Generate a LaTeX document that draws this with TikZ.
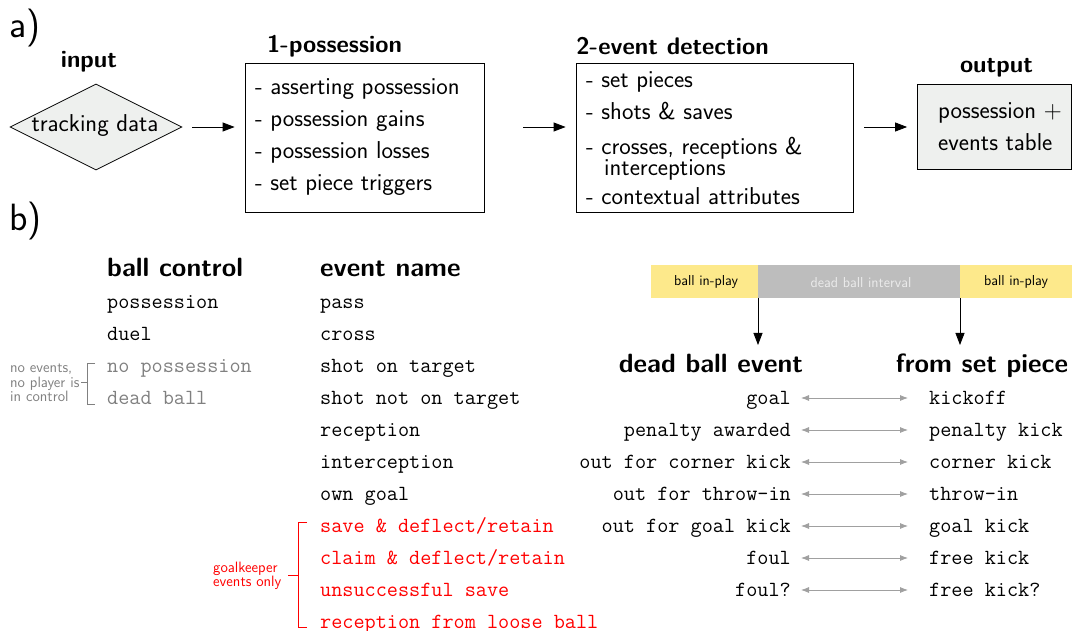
\documentclass[tikz,border=0pt]{standalone}
\usepackage{fontspec}
\usetikzlibrary{shapes.geometric,arrows.meta}
\definecolor{boxfill}{HTML}{EEF0EE}
\definecolor{inplay}{HTML}{FDE98B}
\definecolor{deadgray}{HTML}{BDBDBD}
\definecolor{dimtext}{HTML}{808080}
\definecolor{linkgray}{HTML}{A0A0A0}
\definecolor{gkred}{HTML}{FF0000}
\tikzset{
  body/.style={font=\sffamily\fontsize{24.4}{28}\selectfont, inner sep=0pt},
  headA/.style={font=\sffamily\bfseries\fontsize{24}{28}\selectfont, inner sep=0pt},
  headB/.style={font=\sffamily\bfseries\fontsize{26.4}{30}\selectfont, inner sep=0pt},
  mono/.style={font=\ttfamily\fontsize{21.6}{24}\selectfont, inner sep=0pt},
  tiny/.style={font=\sffamily\fontsize{14.4}{16}\selectfont, inner sep=0pt},
  note/.style={font=\sffamily\fontsize{15}{14.5}\selectfont, inner sep=0pt, align=left},
  panel/.style={font=\sffamily\fontsize{38}{40}\selectfont, inner sep=0pt},
  frame/.style={draw, line width=0.8pt, rectangle, inner sep=0pt},
  flow/.style={line width=0.8pt, -{Triangle[length=12pt,width=9pt]}},
  link/.style={linkgray, line width=0.8pt, {Latex[length=8pt,width=6pt]}-{Latex[length=8pt,width=6pt]}},
}
\begin{document}
\begin{tikzpicture}[x=1pt,y=-1pt]
\useasboundingbox (0,0) rectangle (1072,631);

% ---------- part a ----------
\node[panel, anchor=mid west] (pa) at (9,35) {a)};
\node[panel, anchor=mid west] (pb) at (9,228) {b)};

\node[headA] (hin) at (89,62) {input};
\node[draw, line width=0.8pt, fill=boxfill, diamond, aspect=2, minimum width=172pt, minimum height=86pt, inner sep=0pt] (dia) at (96,127) {};
\node[body] (dtx) at (95,126) {tracking data};

\node[headA] (h1) at (334.5,46) {1-possession};
\node[frame, minimum width=239pt, minimum height=149pt] (b1) at (364.5,137.5) {};
\node[body, anchor=mid west] (b1a) at (255,92) {- asserting possession};
\node[body, anchor=mid west] (b1b) at (255,124) {- possession gains};
\node[body, anchor=mid west] (b1c) at (255,156) {- possession losses};
\node[body, anchor=mid west] (b1d) at (255,188) {- set piece triggers};

\node[headA] (h2) at (672.5,46) {2-event detection};
\node[frame, minimum width=277pt, minimum height=149pt] (b2) at (714.5,137.5) {};
\node[body, anchor=mid west] (b2a) at (586,85) {- set pieces};
\node[body, anchor=mid west] (b2b) at (586,117) {- shots \& saves};
\node[body, anchor=base west, align=left, font=\sffamily\fontsize{24.4}{21}\selectfont] (b2c) at (586,176) {- crosses, receptions \&\\\hspace*{18pt}interceptions};
\node[body, anchor=mid west] (b2d) at (586,202) {- contextual attributes};

\node[headA] (h3) at (996.5,68) {output};
\node[frame, fill=boxfill, minimum width=154pt, minimum height=85pt] (b3) at (994.5,126.5) {};
\node[body, anchor=mid west] (b3a) at (938,116) {possession $+$};
\node[body, anchor=mid west] (b3b) at (938,148) {events table};

\draw[flow, shorten <=10pt, shorten >=10pt] (dia.east) -- (dia.east -| b1.west);
\draw[flow, shorten <=39pt, shorten >=10pt] (dia.east -| b1.east) -- (dia.east -| b2.west);
\draw[flow, shorten <=11pt, shorten >=10pt] (dia.east -| b2.east) -- (dia.east -| b3.west);

% ---------- part b: ball control ----------
\node[headB, anchor=mid west] (hbc) at (107,274) {ball control};
\node[mono, anchor=mid west] (bc1) at (107,306) {possession};
\node[mono, anchor=mid west] (bc2) at (107,338) {duel};
\node[mono, anchor=mid west, text=dimtext] (bc3) at (107,370) {no possession};
\node[mono, anchor=mid west, text=dimtext] (bc4) at (107,402) {dead ball};

\coordinate (gt) at (87,363);
\coordinate (gb) at (87,404);
\coordinate (gm) at (81,382);
\draw[dimtext, line width=0.8pt] ([xshift=8pt]gt) -- (gt) -- (gb) -- ([xshift=8pt]gb);
\draw[dimtext, line width=0.8pt] (gm -| gt) -- (gm);
\node[note, text=dimtext, anchor=west] (gnote) at (10,383) {no events,\\no player is\\in control};

% ---------- part b: event names ----------
\node[headB, anchor=mid west] (hev) at (320,274) {event name};
\node[mono, anchor=mid west] (e1) at (320,306) {pass};
\node[mono, anchor=mid west] (e2) at (320,338) {cross};
\node[mono, anchor=mid west] (e3) at (320,370) {shot on target};
\node[mono, anchor=mid west] (e4) at (320,402) {shot not on target};
\node[mono, anchor=mid west] (e5) at (320,434) {reception};
\node[mono, anchor=mid west] (e6) at (320,466) {interception};
\node[mono, anchor=mid west] (e7) at (320,498) {own goal};
\node[mono, anchor=mid west, text=gkred] (e8) at (320,530) {save \& deflect/retain};
\node[mono, anchor=mid west, text=gkred] (e9) at (320,562) {claim \& deflect/retain};
\node[mono, anchor=mid west, text=gkred] (e10) at (320,594) {unsuccessful save};
\node[mono, anchor=mid west, text=gkred] (e11) at (320,626) {reception from loose ball};

\coordinate (rt) at (298,522);
\coordinate (rb) at (298,627);
\coordinate (rm) at (288,575);
\draw[gkred, line width=0.8pt] ([xshift=9pt]rt) -- (rt) -- (rb) -- ([xshift=9pt]rb);
\draw[gkred, line width=0.8pt] (rm -| rt) -- (rm);
\node[note, text=gkred, anchor=west] (rnote) at (213,576) {goalkeeper\\events only};

% ---------- part b: timeline ----------
\fill[inplay] (651,265) rectangle (758,298);
\fill[deadgray] (758,265) rectangle (960,298);
\fill[inplay] (960,265) rectangle (1072,298);
\node[tiny] (tl1) at (706,282) {ball in-play};
\node[tiny, text=white!92!black] (tl2) at (861,283) {dead ball interval};
\node[tiny] (tl3) at (1016,282) {ball in-play};
\coordinate (d1) at (758,298);
\coordinate (d2) at (960,298);
\coordinate (d1e) at (758,345);
\coordinate (d2e) at (960,345);
\draw[flow] (d1) -- (d1e);
\draw[flow] (d2) -- (d2e);

\node[headB, anchor=mid] (hdb) at (711,370) {dead ball event};
\node[headB, anchor=mid] (hsp) at (982,370) {from set piece};

\foreach \i/\l/\r [count=\k] in {402/goal/kickoff, 434/penalty awarded/penalty kick, 466/out for corner kick/corner kick, 498/out for throw-in/throw-in, 530/out for goal kick/goal kick, 562/foul/free kick, 594/foul?/free kick?}{
  \node[mono, anchor=mid east] (L\k) at (791,\i) {\l};
  \node[mono, anchor=mid west] (R\k) at (929,\i) {\r};
  \draw[link, shorten <=10pt, shorten >=21pt] ([yshift=4pt]L\k.mid east) -- ([yshift=4pt]R\k.mid west);
}
\end{tikzpicture}
\end{document}
